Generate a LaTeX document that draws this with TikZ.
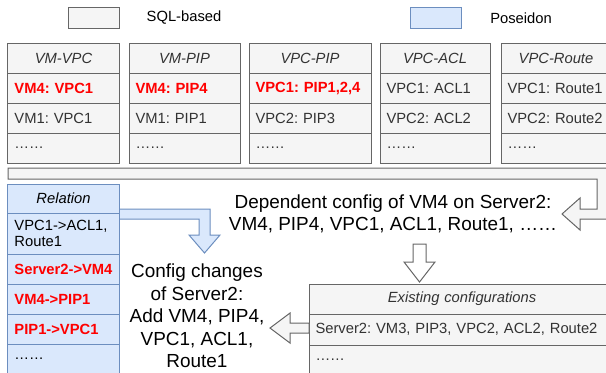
\documentclass[tikz,border=0pt]{standalone}
\usepackage{fontspec}
\setmainfont{Liberation Sans}
\usetikzlibrary{positioning}

\definecolor{greyfill}{HTML}{F5F5F5}
\definecolor{greyline}{HTML}{666666}
\definecolor{greytext}{HTML}{333333}
\definecolor{bluefill}{HTML}{DAE8FC}
\definecolor{blueline}{HTML}{6C8EBF}
\newcommand\tabfont{\fontsize{14.8}{16.5}\selectfont}
\newcommand\bigfont{\fontsize{19}{22.5}\selectfont}
\frenchspacing

\begin{document}
\begin{tikzpicture}[x=1bp,y=-1bp,
  cell/.style={draw=greyline,fill=greyfill,text=greytext,line width=1bp,inner xsep=6.5bp,inner ysep=0pt,outer sep=0pt,minimum height=30bp,align=left,font=\tabfont},
  relcell/.style={cell,draw=blueline,fill=bluefill,text=black},
  head/.style={align=center,font=\tabfont\itshape},
  hot/.style={text=red,font=\tabfont\bfseries},
  greyblock/.style={draw=greyline,fill=greyfill,line width=1bp},
  blueblock/.style={draw=blueline,fill=bluefill,line width=1bp}]
\useasboundingbox (0,0) rectangle (606,372);
\clip (0,0) rectangle (606,372);
%legend
\node[cell,minimum width=51bp,minimum height=21bp] (sqlbox) at (93.5,17.5) {};
\node[font=\tabfont] (sqltext) at (184,18) {SQL-based};
\node[relcell,minimum width=51bp,minimum height=21bp] (posbox) at (435.5,17.5) {};
\node[font=\tabfont] (postext) at (521,18) {Poseidon};
%relation tables
\node[cell,head,text width=98bp] (vmvpc-h) at (63.5,58) {VM-VPC};
\node[cell,hot,text width=98bp,below=0pt of vmvpc-h] (vmvpc-1) {VM4: VPC1};
\node[cell,text width=98bp,below=0pt of vmvpc-1] (vmvpc-2) {VM1: VPC1};
\node[cell,text width=98bp,below=0pt of vmvpc-2] (vmvpc-3) {……};
\node[cell,head,text width=98bp] (vmpip-h) at (184.5,58) {VM-PIP};
\node[cell,hot,text width=98bp,below=0pt of vmpip-h] (vmpip-1) {VM4: PIP4};
\node[cell,text width=98bp,below=0pt of vmpip-1] (vmpip-2) {VM1: PIP1};
\node[cell,text width=98bp,below=0pt of vmpip-2] (vmpip-3) {……};
\node[cell,head,text width=109bp] (vpcpip-h) at (310,58) {VPC-PIP};
\node[cell,hot,text width=109bp,below=0pt of vpcpip-h] (vpcpip-1) {VPC1: PIP1,2,4};
\node[cell,text width=109bp,below=0pt of vpcpip-1] (vpcpip-2) {VPC2: PIP3};
\node[cell,text width=109bp,below=0pt of vpcpip-2] (vpcpip-3) {……};
\node[cell,head,text width=97bp] (vpcacl-h) at (435,58) {VPC-ACL};
\node[cell,text width=97bp,below=0pt of vpcacl-h] (vpcacl-1) {VPC1: ACL1};
\node[cell,text width=97bp,below=0pt of vpcacl-1] (vpcacl-2) {VPC2: ACL2};
\node[cell,text width=97bp,below=0pt of vpcacl-2] (vpcacl-3) {……};
\node[cell,head,text width=97bp] (vpcroute-h) at (556,58) {VPC-Route};
\node[cell,text width=97bp,below=0pt of vpcroute-h] (vpcroute-1) {VPC1: Route1};
\node[cell,text width=97bp,below=0pt of vpcroute-1] (vpcroute-2) {VPC2: Route2};
\node[cell,text width=97bp,below=0pt of vpcroute-2] (vpcroute-3) {……};
%bent arrow from the tables
\draw[greyblock] (8,168) -- (612,168) -- (612,219) -- (580,219) -- (580,230) -- (562,214)
  -- (580,198) -- (580,209) -- (597,209) -- (597,179) -- (8,179) -- cycle;
\node[font=\bigfont,align=center] (dep) at (393,214) {Dependent config of VM4 on Server2:\\VM4, PIP4, VPC1, ACL1, Route1, ……};
%poseidon
\draw[blueblock] (119,209) -- (210,209) -- (210,235) -- (220,235) -- (204.5,253) -- (189,235)
  -- (199,235) -- (199,219) -- (119,219) -- cycle;
\node[relcell,head,text width=98bp,minimum height=29bp] (rel-h) at (63.5,198.5) {Relation};
\node[relcell,text width=98bp,minimum height=41bp,below=0pt of rel-h] (rel-1) {VPC1->ACL1,\\Route1};
\node[relcell,hot,text width=98bp,below=0pt of rel-1] (rel-2) {Server2->VM4};
\node[relcell,hot,text width=98bp,below=0pt of rel-2] (rel-3) {VM4->PIP1};
\node[relcell,hot,text width=98bp,below=0pt of rel-3] (rel-4) {PIP1->VPC1};
\node[relcell,text width=98bp,below=0pt of rel-4] (rel-5) {……};
%existing
\draw[line width=1bp,draw=greyline,fill=white] (413,244) -- (426,244) -- (426,262) -- (435,262)
  -- (419.5,282) -- (404,262) -- (413,262) -- cycle;
\node[cell,head,text width=293bp] (exist-h) at (462,299) {Existing configurations};
\node[cell,text width=293bp,minimum height=31bp,below=0pt of exist-h] (exist-1) {Server2: VM3, PIP3, VPC2, ACL2, Route2};
\node[cell,text width=293bp,below=0pt of exist-1] (exist-2) {……};
\draw[greyblock] (exist-1.west |- 0,323) -- (290,323) -- (290,313) -- (270,328) -- (290,343)
  -- (290,333) -- (exist-1.west |- 0,333) -- cycle;
\node[font=\bigfont,align=center] (chg) at (197,316) {Config changes\\of Server2:\\Add VM4, PIP4,\\VPC1, ACL1,\\Route1};
\end{tikzpicture}
\end{document}
